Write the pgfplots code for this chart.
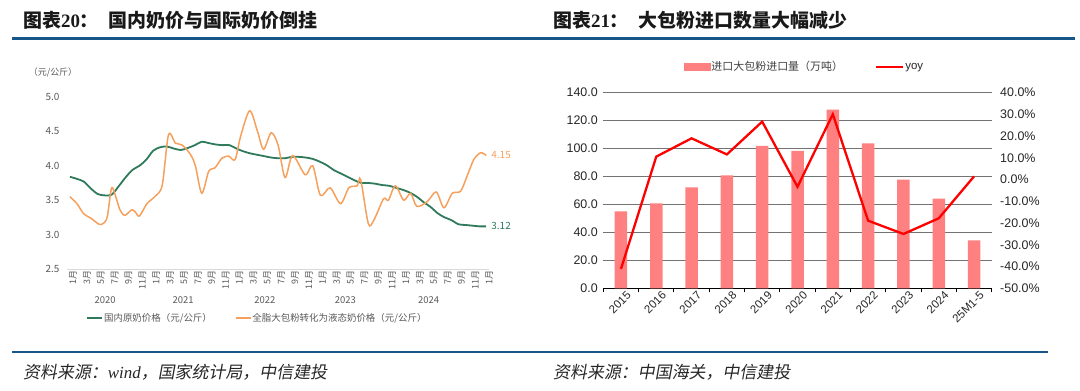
\documentclass[border=0pt]{standalone}
\usepackage{pgfplots}
\pgfplotsset{compat=1.18}
\usepackage{fontspec}
\setmainfont{Noto Sans CJK SC}
\newfontfamily\cjk{Noto Sans CJK SC}
\newfontfamily\cjkit[FakeSlant=0.18]{Noto Sans CJK SC}
\newfontfamily\arial{Liberation Sans}
\newfontfamily\tnr{Liberation Serif}
\definecolor{titleblue}{RGB}{24,86,137}
\definecolor{dgreen}{RGB}{46,122,90}
\definecolor{lorange}{RGB}{245,160,92}
\definecolor{barred}{RGB}{255,128,128}
\definecolor{txtgray}{RGB}{89,89,89}
\begin{document}
\begin{tikzpicture}[x=1bp,y=1bp]
\path[use as bounding box] (0,0) rectangle (1080,390);
% titles
\node[anchor=west, inner sep=0, text=black!90] at (23,370)
  {\fontsize{19}{22}\selectfont{\cjk\bfseries 图表}{\tnr\bfseries 20}{\cjk\bfseries ：}\hspace{10bp}{\cjk\bfseries 国内奶价与国际奶价倒挂}};
\node[anchor=west, inner sep=0, text=black!90] at (553,370)
  {\fontsize{19}{22}\selectfont{\cjk\bfseries 图表}{\tnr\bfseries 21}{\cjk\bfseries ：}\hspace{10bp}{\cjk\bfseries 大包粉进口数量大幅减少}};
\draw[titleblue, line width=3bp] (12,351.5) -- (1075,351.5);
\draw[titleblue, line width=2bp] (12,37.7) -- (1048,37.7);
\node[anchor=west, inner sep=0, text=black!85] at (23,18)
  {\fontsize{17}{20}\selectfont{\cjkit 资料来源：}{\tnr\itshape wind}{\cjkit ，国家统计局，中信建投}};
\node[anchor=west, inner sep=0, text=black!85] at (553,18)
  {\fontsize{17}{20}\selectfont{\cjkit 资料来源：中国海关，中信建投}};
\node[text=txtgray, inner sep=0] at (53,318) {\cjk\fontsize{9}{11}\selectfont （元/公斤）};

% ---------------- left chart ----------------
\begin{axis}[
  at={(67bp,121bp)}, anchor=south west, scale only axis,
  width=422bp, height=172bp,
  xmin=-0.43, xmax=60.4, ymin=2.5, ymax=5.0,
  clip=false,
  axis x line*=bottom, axis y line*=left,
  x axis line style={-, draw=black!15, line width=0.8bp},
  y axis line style={draw=none},
  major tick length=0pt,
  ytick={2.5,3,3.5,4,4.5,5},
  /pgf/number format/assume math mode=true,
  yticklabel={\pgfmathprintnumber[fixed,fixed zerofill,precision=1]{\tick}},
  yticklabel style={font=\cjk\fontsize{10}{12}\selectfont, text=txtgray, xshift=-4bp},
  xtick={0,2,...,60},
  xticklabels={1月,3月,5月,7月,9月,11月,1月,3月,5月,7月,9月,11月,1月,3月,5月,7月,9月,11月,1月,3月,5月,7月,9月,11月,1月,3月,5月,7月,9月,11月,1月},
  xticklabel style={font=\cjk\fontsize{9}{10}\selectfont, text=txtgray, rotate=90, anchor=east, inner sep=1bp, yshift=-3bp},
  legend style={at={(axis description cs:0.45,-0.285)}, anchor=center, draw=none, fill=none,
    legend columns=2, font=\cjk\fontsize{9.5}{11}\selectfont, text=txtgray,
    /tikz/every even column/.append style={column sep=22bp},
    inner sep=0pt, nodes={inner sep=1bp}},
  legend image code/.code={\draw[#1] (0bp,0bp) -- (15bp,0bp);},
]
\addplot[dgreen, line width=1.8bp, smooth] coordinates {
(0,3.84) (1,3.81) (2,3.77) (3,3.67) (4,3.59) (5,3.57) (6,3.58) (7,3.70) (8,3.83) (9,3.94)
(10,4.00) (11,4.09) (12,4.22) (13,4.27) (14,4.28) (15,4.25) (16,4.23) (17,4.26) (18,4.30) (19,4.35)
(20,4.33) (21,4.31) (22,4.30) (23,4.30) (24,4.25) (25,4.21) (26,4.18) (27,4.16) (28,4.14) (29,4.12)
(30,4.11) (31,4.11) (32,4.13) (33,4.13) (34,4.12) (35,4.10) (36,4.06) (37,4.01) (38,3.94) (39,3.89)
(40,3.84) (41,3.79) (42,3.75) (43,3.75) (44,3.74) (45,3.72) (46,3.71) (47,3.68) (48,3.65) (49,3.61)
(50,3.55) (51,3.47) (52,3.40) (53,3.31) (54,3.25) (55,3.21) (56,3.15) (57,3.14) (58,3.13) (59,3.12) (60,3.12)};
\addlegendentry{国内原奶价格（元/公斤）}
\addplot[lorange, line width=1.5bp, smooth] coordinates {
(0,3.55) (1,3.45) (2,3.30) (3,3.24) (4.2,3.15) (4.9,3.17) (5.4,3.27) (6.0,3.68) (6.6,3.55) (7.2,3.36)
(7.9,3.28) (8.9,3.36) (9.4,3.33) (10.0,3.27) (11.1,3.45) (12.3,3.56) (13.3,3.72) (14.2,4.45) (15.2,4.33)
(16.2,4.30) (17.4,4.16) (18.1,3.99) (19.0,3.60) (20.0,3.92) (20.9,3.97) (21.9,4.11) (22.9,4.14) (23.8,4.09)
(24.6,4.43) (25.9,4.80) (27.0,4.51) (27.9,4.24) (29.0,4.48) (30.0,4.30) (31.0,3.83) (32.1,4.15) (33.9,3.87)
(35.0,4.00) (36.1,3.57) (37.5,3.68) (39.0,3.45) (40.2,3.68) (41.4,3.71) (41.9,3.80) (43.0,3.16) (43.8,3.21)
(45.2,3.52) (45.9,3.50) (46.9,3.71) (48.1,3.50) (49.1,3.60) (50.0,3.41) (51.5,3.48) (52.8,3.62) (53.9,3.39)
(55.1,3.60) (56.3,3.63) (57.2,3.84) (58.2,4.09) (59.2,4.19) (60,4.15)};
\addlegendentry{全脂大包粉转化为液态奶价格（元/公斤）}
\node[anchor=west, text=lorange, font=\cjk\fontsize{10}{12}\selectfont, inner sep=0] at (axis cs:60,4.15) [xshift=5bp] {4.15};
\node[anchor=west, text=dgreen, font=\cjk\fontsize{10}{12}\selectfont, inner sep=0] at (axis cs:60,3.12) [xshift=5bp] {3.12};
\node[text=txtgray, font=\cjk\fontsize{9.5}{11}\selectfont, inner sep=0] at (axis cs:5.05,2.5) [yshift=-31bp] {2020};
\node[text=txtgray, font=\cjk\fontsize{9.5}{11}\selectfont, inner sep=0] at (axis cs:16.3,2.5) [yshift=-31bp] {2021};
\node[text=txtgray, font=\cjk\fontsize{9.5}{11}\selectfont, inner sep=0] at (axis cs:28.1,2.5) [yshift=-31bp] {2022};
\node[text=txtgray, font=\cjk\fontsize{9.5}{11}\selectfont, inner sep=0] at (axis cs:39.7,2.5) [yshift=-31bp] {2023};
\node[text=txtgray, font=\cjk\fontsize{9.5}{11}\selectfont, inner sep=0] at (axis cs:51.7,2.5) [yshift=-31bp] {2024};
\end{axis}

% ---------------- right chart: bars ----------------
\begin{axis}[
  at={(603.3bp,101.7bp)}, anchor=south west, scale only axis,
  width=388.4bp, height=195.6bp,
  xmin=-0.5, xmax=10.5, ymin=0, ymax=140,
  axis x line*=bottom, axis y line*=left,
  x axis line style={-, draw=black, line width=1bp},
  y axis line style={draw=none},
  ytick={0,20,...,140},
  ymajorgrids, grid style={black!55, line width=0.8bp},
  major tick length=0pt,
  minor tick length=4bp, tick align=outside,
  minor xtick={-0.5,0.5,...,10.5},
  minor tick style={black, line width=1bp},
  /pgf/number format/assume math mode=true,
  yticklabel={\pgfmathprintnumber[fixed,fixed zerofill,precision=1]{\tick}},
  yticklabel style={font=\arial\fontsize{12.5}{14}\selectfont, text=black!85, xshift=-2bp},
  xtick={0,...,10},
  xticklabels={2015,2016,2017,2018,2019,2020,2021,2022,2023,2024,25M1-5},
  xticklabel style={font=\arial\fontsize{11.5}{13}\selectfont, text=black!85, rotate=45, anchor=north east, inner sep=1bp, yshift=-4bp, xshift=3bp},
]
\addplot[ybar, bar width=12.5bp, fill=barred, draw=none] coordinates {
(0,55.1) (1,60.8) (2,72.3) (3,80.9) (4,101.9) (5,98.3) (6,127.9) (7,103.8) (8,77.8) (9,64.2) (10,34.3)};
\end{axis}

% ---------------- right chart: yoy ----------------
\begin{axis}[
  at={(603.3bp,101.7bp)}, anchor=south west, scale only axis,
  width=388.4bp, height=195.6bp,
  xmin=-0.5, xmax=10.5, ymin=-50, ymax=40,
  hide x axis,
  axis y line*=right,
  y axis line style={draw=none},
  major tick length=0pt,
  ytick={-50,-40,...,40},
  /pgf/number format/assume math mode=true,
  yticklabel={\pgfmathprintnumber[fixed,fixed zerofill,precision=1]{\tick}\%},
  yticklabel style={font=\arial\fontsize{12.5}{14}\selectfont, text=black!85, xshift=5bp},
  legend style={at={(axis description cs:0.517,1.133)}, anchor=center, draw=none, fill=none,
    legend columns=2, inner sep=0pt, nodes={inner sep=1.5bp},
    /tikz/every even column/.append style={column sep=30bp}},
]
\addlegendimage{legend image code/.code={\fill[barred] (0bp,-3.5bp) rectangle (26bp,3.5bp);}}
\addlegendentry{\cjk\fontsize{11}{13}\selectfont\color{black!75}进口大包粉进口量（万吨）}
\addplot[red, line width=2.3bp, sharp plot, legend image code/.code={\draw[red, line width=2.3bp] (0bp,0bp) -- (27bp,0bp);}] coordinates {
(0,-41.1) (1,10.6) (2,19.0) (3,11.6) (4,26.7) (5,-3.3) (6,30.1) (7,-18.9) (8,-25.0) (9,-17.8) (10,1.5)};
\addlegendentry{\arial\fontsize{11.5}{13}\selectfont\color{black!85}yoy}
\end{axis}
\end{tikzpicture}
\end{document}
